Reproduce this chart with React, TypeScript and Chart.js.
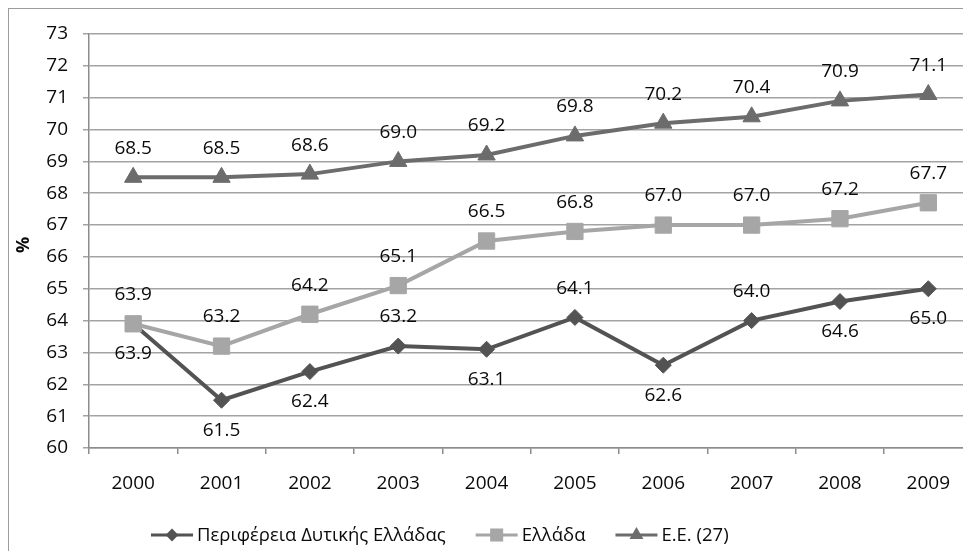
import { useEffect, useRef } from 'react';
import { Chart, registerables } from 'chart.js';

Chart.register(...registerables);

const years = ['2000', '2001', '2002', '2003', '2004', '2005', '2006', '2007', '2008', '2009'];
const westernGreece = [63.9, 61.5, 62.4, 63.2, 63.1, 64.1, 62.6, 64.0, 64.6, 65.0];
const greece = [63.9, 63.2, 64.2, 65.1, 66.5, 66.8, 67.0, 67.0, 67.2, 67.7];
const eu27 = [68.5, 68.5, 68.6, 69.0, 69.2, 69.8, 70.2, 70.4, 70.9, 71.1];
const westernGreeceLabelSide = ['below', 'below', 'below', 'above', 'below', 'above', 'below', 'above', 'below', 'below'];
const seriesNames = ['Περιφέρεια Δυτικής Ελλάδας', 'Ελλάδα', 'Ε.Ε. (27)'];
const yMin = 60;
const yMax = 73;
const axisTitle = '%';

const FONT = '"Open Sans", "Noto Sans", sans-serif';
const TEXT = '#0a0a0a';
const GRID = '#a3a3a3';
const AXIS = '#8c8c8c';
const COLORS = ['#535353', '#a6a6a6', '#6c6c6c'];
const SHAPES = ['rectRot', 'rect', 'triangle'];
const RADII = [8, 11.5, 10];

const CANVAS_W = 985;
const CANVAS_H = 551;

function drawMarker(ctx: CanvasRenderingContext2D, shape: string, x: number, y: number, r: number) {
  ctx.beginPath();
  if (shape === 'rectRot') {
    ctx.moveTo(x - r, y);
    ctx.lineTo(x, y - r);
    ctx.lineTo(x + r, y);
    ctx.lineTo(x, y + r);
  } else if (shape === 'rect') {
    const s = r * Math.SQRT1_2;
    ctx.rect(x - s, y - s, 2 * s, 2 * s);
  } else {
    const side = (r * 3) / Math.sqrt(3);
    const h = (side * Math.sqrt(3)) / 2;
    ctx.moveTo(x - side / 2, y + h / 3);
    ctx.lineTo(x + side / 2, y + h / 3);
    ctx.lineTo(x, y - (2 * h) / 3);
  }
  ctx.closePath();
  ctx.fill();
}

// value labels above/below each point, plus the rotated axis title and the legend row
const overlay = {
  id: 'overlay',
  afterDatasetsDraw(chart: any) {
    const ctx = chart.ctx as CanvasRenderingContext2D;
    ctx.save();
    ctx.font = `19px ${FONT}`;
    ctx.fillStyle = TEXT;
    ctx.textAlign = 'center';
    ctx.textBaseline = 'middle';
    chart.data.datasets.forEach((ds: any, di: number) => {
      const meta = chart.getDatasetMeta(di);
      meta.data.forEach((pt: any, i: number) => {
        const side = ds.labelSides ? ds.labelSides[i] : 'above';
        const dy = side === 'above' ? -29 : 30;
        ctx.fillText(Number(ds.data[i]).toFixed(1), pt.x, pt.y + dy);
      });
    });

    // axis title
    ctx.save();
    ctx.translate(24, 245);
    ctx.rotate(-Math.PI / 2);
    ctx.font = `bold 18px ${FONT}`;
    ctx.fillText(axisTitle, 0, 0);
    ctx.restore();

    // legend
    const ly = 535;
    let x = 151;
    ctx.font = `18.5px ${FONT}`;
    ctx.textAlign = 'left';
    seriesNames.forEach((name, i) => {
      ctx.strokeStyle = COLORS[i];
      ctx.lineWidth = 3;
      ctx.beginPath();
      ctx.moveTo(x, ly);
      ctx.lineTo(x + 42, ly);
      ctx.stroke();
      ctx.fillStyle = COLORS[i];
      drawMarker(ctx, SHAPES[i], x + 21, ly, RADII[i] * 0.8);
      ctx.fillStyle = TEXT;
      ctx.fillText(name, x + 46, ly + 1);
      x += 46 + ctx.measureText(name).width + 30;
    });
    ctx.restore();
  },
};

export default function App() {
  const canvasRef = useRef<HTMLCanvasElement | null>(null);

  useEffect(() => {
    const canvas = canvasRef.current;
    if (!canvas) return;
    const makeSet = (label: string, data: number[], i: number, order: number, labelSides?: string[]) => ({
      label,
      data,
      order,
      labelSides,
      borderColor: COLORS[i],
      backgroundColor: COLORS[i],
      borderWidth: 4,
      pointStyle: SHAPES[i],
      pointRadius: RADII[i],
      pointBorderWidth: 1,
      pointBackgroundColor: COLORS[i],
      pointBorderColor: COLORS[i],
      tension: 0,
    });
    const chart = new Chart(canvas, {
      type: 'line',
      data: {
        labels: years,
        datasets: [
          makeSet(seriesNames[0], westernGreece, 0, 1, westernGreeceLabelSide),
          makeSet(seriesNames[1], greece, 1, 0),
          makeSet(seriesNames[2], eu27, 2, 2),
        ] as any,
      },
      options: {
        animation: false,
        responsive: false,
        devicePixelRatio: 1,
        layout: { padding: { left: 0, right: CANVAS_W - 973, top: 34, bottom: 0 } },
        plugins: { legend: { display: false }, tooltip: { enabled: false } },
        scales: {
          x: {
            offset: true,
            grid: {
              display: true,
              offset: true,
              drawOnChartArea: false,
              drawTicks: true,
              tickLength: 6,
              color: AXIS,
              lineWidth: 1.5,
            },
            border: { display: true, color: AXIS, width: 1.5 },
            ticks: { font: { family: FONT, size: 19 }, color: TEXT, padding: 18, maxRotation: 0 },
            afterFit(scale: any) {
              scale.height = CANVAS_H - 448;
            },
          },
          y: {
            min: yMin,
            max: yMax,
            grid: { color: GRID, lineWidth: 1.5, drawTicks: true, tickLength: 6 },
            border: { display: true, color: AXIS, width: 1.5 },
            ticks: { stepSize: 1, font: { family: FONT, size: 19 }, color: TEXT, padding: 15 },
            afterFit(scale: any) {
              scale.width = 89;
            },
          },
        },
      },
      plugins: [overlay],
    });
    return () => chart.destroy();
  }, []);

  return (
    <div
      style={{
        position: 'fixed',
        left: 0,
        top: 0,
        width: 963,
        height: 551,
        overflow: 'hidden',
        background: '#ffffff',
      }}
    >
      <div
        style={{
          position: 'absolute',
          left: 8,
          top: 8,
          width: 1200,
          height: 900,
          borderLeft: '1.5px solid #9c9c9c',
          borderTop: '1.5px solid #9c9c9c',
        }}
      />
      <canvas
        ref={canvasRef}
        width={CANVAS_W}
        height={CANVAS_H}
        style={{ position: 'absolute', left: 0, top: 0, width: CANVAS_W, height: CANVAS_H }}
      />
    </div>
  );
}
